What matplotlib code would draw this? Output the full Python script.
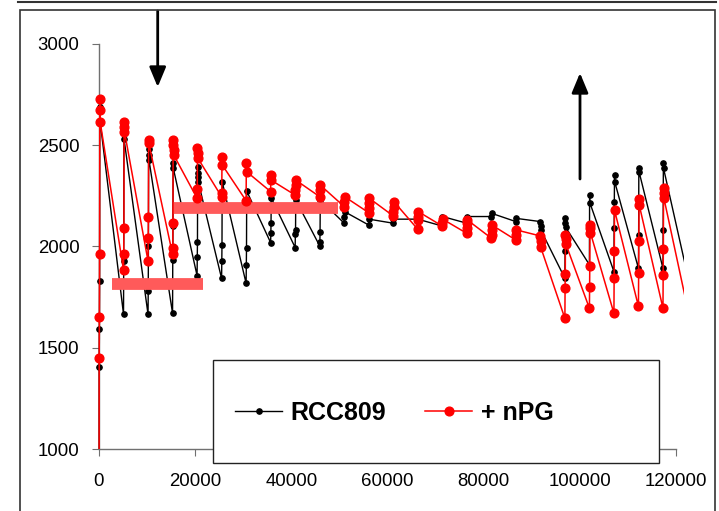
import matplotlib
matplotlib.use("Agg")
import matplotlib.pyplot as plt
from matplotlib.patches import Rectangle
import numpy as np

plt.rcParams['font.family'] = ['Liberation Sans', 'DejaVu Sans']

# start time of each measuring cycle (x axis units)
cycle_t = [0, 5100, 10200, 15300, 20400, 25500, 30600, 35700, 40800, 45900,
           51000, 56100, 61200, 66300, 71400, 76500, 81600, 86700, 91800,
           96900, 102000, 107100, 112200, 117300, 123000]

# values read within each cycle, in recording order
rcc809 = [
    [0, 1403, 1593, 1830, 2720, 2690, 2616],
    [1665, 1928, 2560, 2529],
    [1665, 1780, 2000, 2480, 2452, 2427],
    [1670, 1933, 2100, 2411, 2386],
    [1856, 1947, 2024, 2391, 2365, 2345, 2320],
    [1842, 1929, 2007, 2320],
    [1818, 1909, 1991, 2274],
    [2019, 2065, 2115, 2240],
    [1995, 2062, 2082, 2230],
    [2003, 2024, 2073, 2230],
    [2115, 2144, 2172],
    [2106, 2135],
    [2115, 2135],
    [2135],
    [2101, 2148],
    [2115, 2148],
    [2148, 2164],
    [2123, 2139],
    [2123, 2101, 2082],
    [1843, 1980, 2139, 2118, 2095],
    [1910, 2254, 2217],
    [1876, 2090, 2222, 2353, 2320],
    [1892, 2057, 2386, 2370],
    [1892, 2082, 2414, 2386],
    [1796],
]

npg = [
    [0, 1451, 1653, 1961, 2727, 2674, 2616],
    [1884, 1961, 2090, 2616, 2592, 2567],
    [1928, 2041, 2144, 2526, 2510],
    [1961, 1994, 2118, 2526, 2501, 2477, 2452],
    [2238, 2283, 2485, 2460, 2436],
    [2246, 2262, 2444, 2403],
    [2226, 2411, 2370],
    [2271, 2353, 2328],
    [2254, 2279, 2304, 2328],
    [2246, 2279, 2304],
    [2197, 2222, 2246],
    [2167, 2189, 2213, 2238],
    [2151, 2172, 2197, 2222],
    [2085, 2131, 2148, 2172],
    [2101, 2118, 2135],
    [2065, 2090, 2115, 2131],
    [2041, 2057, 2082, 2106],
    [2032, 2057, 2082],
    [2052, 2029, 1996],
    [1645, 1797, 1863, 2057, 2036, 2012],
    [1695, 1798, 1905, 2106, 2090, 2069],
    [1670, 1843, 1978, 2180],
    [1704, 1868, 2027, 2233, 2205],
    [1695, 1859, 1986, 2287, 2262, 2238],
    [1630],
]

# highlighted ranges: (x start, x end, level)
bands = [(2770, 21570, 1815), (15450, 49770, 2188)]

labels = ['RCC809', '+ nPG']


def flatten(t0, cycles, step=40):
    xs, ys = [], []
    for t, vals in zip(t0, cycles):
        for i, v in enumerate(vals):
            xs.append(t + i * step)
            ys.append(v)
    return np.array(xs), np.array(ys)


W, H = 719, 511
fig = plt.figure(figsize=(W / 100, H / 100), dpi=100)
ax = fig.add_axes([99 / W, 1 - 449 / H, (683.5 - 99) / W, (449 - 44) / H])

clip = Rectangle((-0.03, 0), 1.03, 1.05, transform=ax.transAxes)

xb, yb = flatten(cycle_t, rcc809)
xr, yr = flatten(cycle_t, npg)
l1, = ax.plot(xb, yb, color='black', lw=1.0, marker='o', ms=3.8,
              mec='black', mfc='black', zorder=3, label=labels[0])
for x0, x1, lev in bands:
    ax.plot([x0, x1], [lev, lev], color='#ff5a5a', lw=8.5,
            solid_capstyle='butt', zorder=4)
l2, = ax.plot(xr, yr, color='red', lw=1.1, marker='o', ms=6.3,
              mec='red', mfc='red', zorder=5, label=labels[1])
for ln in ax.lines:
    ln.set_clip_path(clip)

ax.set_xlim(0, 121570)
ax.set_ylim(1000, 3000)
ax.set_xticks(np.arange(0, 120001, 20000))
ax.set_yticks(np.arange(1000, 3001, 500))
for s in ['top', 'right']:
    ax.spines[s].set_visible(False)
for s in ['left', 'bottom']:
    ax.spines[s].set_color('#707070')
    ax.spines[s].set_linewidth(1.0)
ax.spines['bottom'].set_bounds(0, 120000)
ax.tick_params(axis='both', direction='out', length=5, color='#707070',
               labelsize=13.4, labelcolor='black')
ax.tick_params(axis='y', pad=9)
ax.tick_params(axis='x', pad=12)

# legend box
fig.add_artist(Rectangle((213 / W, 1 - 463 / H), 446 / W, 103 / H,
                         transform=fig.transFigure, facecolor='white',
                         edgecolor='#222222', lw=1.0, zorder=6))
leg = fig.legend(handles=[l1, l2], loc='center left',
                 bbox_to_anchor=(235 / W, 1 - 413 / H), ncol=2,
                 frameon=False, borderpad=0, borderaxespad=0,
                 handlelength=1.88, handletextpad=0.35, columnspacing=1.55,
                 prop={'size': 18, 'weight': 'bold'})
leg.set_zorder(7)

# arrows
head = '-|>,head_length=1.2,head_width=0.5'
ax.annotate('', xy=(157.7 / W, 1 - 87 / H), xytext=(157.7 / W, 1 - 11 / H),
            xycoords='figure fraction', textcoords='figure fraction',
            arrowprops=dict(arrowstyle=head, color='black', lw=2,
                            shrinkA=0, shrinkB=0))
ax.annotate('', xy=(580 / W, 1 - 73 / H), xytext=(580 / W, 1 - 179 / H),
            xycoords='figure fraction', textcoords='figure fraction',
            arrowprops=dict(arrowstyle=head, color='black', lw=2,
                            shrinkA=0, shrinkB=0))

# outer frames
fig.add_artist(Rectangle((20 / W, -0.01), 695 / W, 1 - 10 / H + 0.01,
                         transform=fig.transFigure, fill=False,
                         edgecolor='#333333', lw=1.2))
fig.add_artist(plt.Line2D([18 / W, 716 / W], [1 - 2.5 / H, 1 - 2.5 / H],
                          transform=fig.transFigure, color='#333333', lw=1.5))

fig.savefig('out.png', dpi=100)
